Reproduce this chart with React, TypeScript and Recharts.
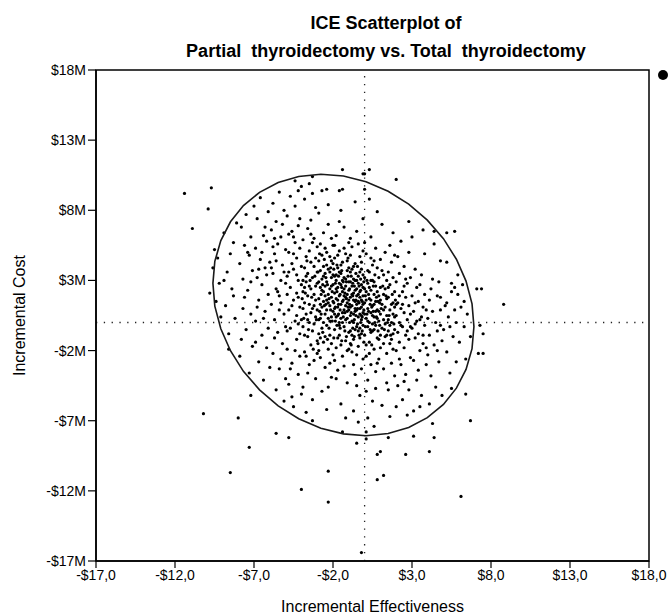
import React from 'react';
import { ScatterChart, Scatter, XAxis, YAxis, ReferenceLine, ReferenceArea } from 'recharts';

const titleLines = ['ICE Scatterplot of', 'Partial  thyroidectomy vs. Total  thyroidectomy'];
const xAxisTitle = 'Incremental Effectiveness';
const yAxisTitle = 'Incremental Cost';
const xTicks = [-17, -12, -7, -2, 3, 8, 13, 18];
const yTicks = [-17, -12, -7, -2, 3, 8, 13, 18];

// Incremental effectiveness (x) , incremental cost in $M (y)
const clusterPoints: [number, number][] = [
  [-9.8,2.1],[-9.6,3.9],[-9.4,1.5],[-9.3,4.6],[-9.1,0.4],[-9.5,5.2],[-9.2,2.8],
  [-8.9,6.4],[-8.8,1.2],[-8.7,3.6],[-8.6,-0.8],[-8.5,4.9],[-8.4,2.4],[-8.3,5.7],[-8.2,0.3],[-8.9,3.0],[-8.1,7.1],[-8.6,-1.9],[-8.3,1.9],
  [-7.9,4.2],[-7.9,-2.4],[-7.8,6.8],[-7.7,1.0],[-7.7,3.1],[-7.6,5.5],[-7.5,-0.5],[-7.5,7.7],[-7.4,2.3],[-7.3,-3.6],[-7.3,4.8],[-7.2,0.6],[-7.2,6.1],[-7.1,3.7],[-7.1,-1.7],[-7.0,8.3],[-7.6,1.8],[-7.4,5.0],[-7.8,-1.2],[-7.2,2.9],
  [-6.9,5.3],[-6.9,0.1],[-6.8,3.2],[-6.8,7.4],[-6.7,-2.8],[-6.7,1.6],[-6.6,4.5],[-6.6,8.9],[-6.5,-0.9],[-6.5,2.7],[-6.4,6.2],[-6.4,-4.1],[-6.3,3.9],[-6.3,0.8],[-6.2,5.8],[-6.2,-1.8],[-6.1,2.0],[-6.1,7.9],[-6.0,4.3],[-6.0,-3.2],[-6.8,1.1],[-6.5,5.0],[-6.3,6.8],[-6.9,-1.4],[-6.2,3.4],[-6.4,0.3],[-6.1,-0.4],[-6.7,3.8],
  [-5.9,1.3],[-5.9,6.6],[-5.8,-2.2],[-5.8,3.5],[-5.8,8.5],[-5.7,0.2],[-5.7,4.9],[-5.6,-4.8],[-5.6,2.4],[-5.6,7.2],[-5.5,-0.7],[-5.5,5.6],[-5.4,1.9],[-5.4,9.3],[-5.4,-3.3],[-5.3,3.0],[-5.3,6.1],[-5.2,-1.5],[-5.2,4.1],[-5.1,0.6],[-5.1,8.0],[-5.1,-5.6],[-5.0,2.8],[-5.0,5.2],[-5.9,3.9],[-5.7,-1.1],[-5.5,2.2],[-5.3,-2.6],[-5.2,7.0],[-5.6,4.4],[-5.4,0.9],[-5.0,-0.3],[-5.8,5.4],[-5.3,1.4],[-5.1,3.6],[-5.7,6.0],[-5.0,-4.0],
  [-4.9,3.3],[-4.9,-1.9],[-4.9,7.6],[-4.8,0.9],[-4.8,5.0],[-4.8,-4.4],[-4.7,2.5],[-4.7,9.0],[-4.7,-0.4],[-4.6,4.2],[-4.6,6.5],[-4.6,-2.9],[-4.5,1.6],[-4.5,3.8],[-4.5,-6.0],[-4.4,0.1],[-4.4,5.7],[-4.4,8.3],[-4.3,2.1],[-4.3,-1.2],[-4.3,4.6],[-4.2,-3.7],[-4.2,3.0],[-4.2,6.9],[-4.1,1.1],[-4.1,-0.8],[-4.1,5.3],[-4.0,2.7],[-4.0,-5.1],[-4.0,9.7],[-4.9,2.0],[-4.8,3.6],[-4.7,-3.3],[-4.6,1.2],[-4.5,6.1],[-4.4,-2.0],[-4.3,0.5],[-4.2,1.8],[-4.1,7.4],[-4.0,0.2],[-4.6,-5.3],[-4.3,3.4],[-4.8,6.3],[-4.1,-2.4],[-4.5,4.9],[-4.0,4.0],[-4.9,-0.6],[-4.2,-0.1],
  [-3.9,2.2],[-3.9,-0.3],[-3.9,5.9],[-3.9,-4.6],[-3.8,1.4],[-3.8,3.9],[-3.8,8.8],[-3.8,-2.1],[-3.7,0.6],[-3.7,4.7],[-3.7,-6.4],[-3.7,2.9],[-3.6,-1.0],[-3.6,6.7],[-3.6,1.9],[-3.6,3.5],[-3.5,-3.0],[-3.5,0.0],[-3.5,5.1],[-3.5,9.9],[-3.4,2.4],[-3.4,-1.6],[-3.4,4.3],[-3.4,7.3],[-3.3,1.0],[-3.3,-5.5],[-3.3,3.2],[-3.3,-0.6],[-3.2,2.0],[-3.2,6.0],[-3.2,-2.7],[-3.2,4.0],[-3.1,0.4],[-3.1,1.6],[-3.1,8.2],[-3.1,-4.0],[-3.0,2.8],[-3.0,-1.3],[-3.0,5.4],[-3.0,3.6],[-3.9,1.0],[-3.8,-0.9],[-3.7,3.3],[-3.6,-3.6],[-3.5,1.3],[-3.4,0.7],[-3.3,5.7],[-3.2,-0.1],[-3.1,2.6],[-3.0,0.9],[-3.9,3.0],[-3.7,-2.4],[-3.5,2.6],[-3.3,-7.0],[-3.1,4.6],[-3.6,0.2],[-3.4,6.3],[-3.8,2.5],[-3.2,1.2],[-3.0,-2.2],
  [-2.9,1.7],[-2.9,4.4],[-2.9,-0.8],[-2.9,7.8],[-2.8,2.5],[-2.8,-2.5],[-2.8,0.3],[-2.8,5.6],[-2.7,3.1],[-2.7,-4.9],[-2.7,1.1],[-2.7,9.4],[-2.6,-1.4],[-2.6,2.2],[-2.6,4.0],[-2.6,6.4],[-2.5,0.6],[-2.5,3.5],[-2.5,-3.2],[-2.5,1.9],[-2.4,-0.2],[-2.4,2.9],[-2.4,5.0],[-2.4,-6.2],[-2.3,1.4],[-2.3,3.8],[-2.3,-1.9],[-2.3,7.0],[-2.2,0.1],[-2.2,2.4],[-2.2,4.7],[-2.2,-0.9],[-2.1,1.8],[-2.1,3.2],[-2.1,-3.9],[-2.1,6.0],[-2.0,0.8],[-2.0,2.7],[-2.0,-2.3],[-2.0,4.2],[-2.9,2.9],[-2.8,1.3],[-2.7,-0.4],[-2.6,3.3],[-2.5,2.6],[-2.4,0.9],[-2.3,2.0],[-2.2,3.6],[-2.1,0.4],[-2.0,1.5],[-2.9,-2.0],[-2.7,4.8],[-2.5,-1.0],[-2.3,-4.6],[-2.1,2.6],[-2.8,3.7],[-2.6,0.0],[-2.4,4.1],[-2.2,1.2],[-2.0,3.4],[-2.7,2.3],[-2.5,5.3],[-2.3,0.3],[-2.1,-1.5],[-2.9,0.2],[-2.4,1.6],[-2.2,-2.9],[-2.6,1.5],[-2.0,5.5],[-2.8,-1.1],[-2.3,8.4],[-2.1,4.4],
  [-1.9,2.1],[-1.9,-0.5],[-1.9,4.6],[-1.9,1.0],[-1.8,3.0],[-1.8,-1.8],[-1.8,0.4],[-1.8,6.2],[-1.7,1.6],[-1.7,3.9],[-1.7,-3.4],[-1.7,2.5],[-1.6,0.0],[-1.6,5.1],[-1.6,-0.9],[-1.6,2.8],[-1.5,1.3],[-1.5,3.5],[-1.5,-5.8],[-1.5,8.0],[-1.4,0.7],[-1.4,2.2],[-1.4,-2.4],[-1.4,4.3],[-1.3,1.9],[-1.3,-0.3],[-1.3,3.2],[-1.3,6.8],[-1.2,0.2],[-1.2,2.6],[-1.2,-1.3],[-1.2,4.9],[-1.1,1.4],[-1.1,3.7],[-1.1,-4.3],[-1.1,2.0],[-1.0,0.9],[-1.0,2.9],[-1.0,-0.7],[-1.0,5.7],[-1.9,3.3],[-1.8,1.7],[-1.7,0.5],[-1.6,1.9],[-1.5,2.7],[-1.4,1.5],[-1.3,0.9],[-1.2,1.8],[-1.1,0.3],[-1.0,2.3],[-1.9,-2.7],[-1.7,4.8],[-1.5,-1.6],[-1.3,-3.1],[-1.1,4.4],[-1.8,2.4],[-1.6,3.6],[-1.4,0.0],[-1.2,3.1],[-1.0,1.6],[-1.9,5.5],[-1.7,-1.1],[-1.5,0.3],[-1.3,2.4],[-1.1,-2.0],[-1.8,-4.0],[-1.6,7.2],[-1.4,3.0],[-1.2,-6.8],[-1.0,3.9],[-1.5,4.1],[-1.3,5.3],[-1.7,1.1],[-1.1,0.8],[-1.9,0.6],[-1.4,9.5],[-1.6,-0.2],[-1.2,1.2],[-1.8,3.4],[-1.0,-1.9],
  [-0.9,1.8],[-0.9,-0.6],[-0.9,3.6],[-0.9,0.5],[-0.8,2.6],[-0.8,-2.1],[-0.8,1.2],[-0.8,5.4],[-0.7,0.0],[-0.7,3.1],[-0.7,-1.2],[-0.7,2.1],[-0.6,1.5],[-0.6,4.2],[-0.6,-3.7],[-0.6,0.8],[-0.5,2.4],[-0.5,-0.3],[-0.5,6.5],[-0.5,1.9],[-0.4,0.4],[-0.4,3.3],[-0.4,-1.7],[-0.4,2.8],[-0.3,1.0],[-0.3,-5.2],[-0.3,2.2],[-0.3,4.7],[-0.2,-0.8],[-0.2,1.6],[-0.2,3.8],[-0.2,0.2],[-0.1,2.5],[-0.1,-2.6],[-0.1,1.3],[-0.1,7.4],[-0.9,2.9],[-0.8,0.1],[-0.7,4.0],[-0.6,2.3],[-0.5,0.9],[-0.4,1.5],[-0.3,0.6],[-0.2,2.7],[-0.1,0.7],[-0.9,-1.5],[-0.7,-3.0],[-0.5,-4.5],[-0.3,-1.1],[-0.1,3.4],[-0.8,3.8],[-0.6,-0.5],[-0.4,5.6],[-0.2,-3.3],[-0.9,4.8],[-0.7,1.6],[-0.5,3.0],[-0.3,1.8],[-0.1,-0.2],[-0.8,-0.9],[-0.6,1.0],[-0.4,-0.6],[-0.2,4.3],[-0.9,6.0],[-0.7,-6.3],[-0.5,-2.3],[-0.3,3.6],[-0.1,5.1],[-0.6,3.0],[-0.4,2.0],[-0.2,1.1],[-0.8,2.0],[-0.5,1.3],[-0.3,-0.4],[-0.1,1.9],[-0.6,8.6],[-0.4,-7.1],[-0.9,1.1],[-0.2,0.5],[-0.7,0.6],
  [0.0,1.4],[0.0,-0.9],[0.0,3.2],[0.1,0.3],[0.1,2.2],[0.1,-2.4],[0.1,4.9],[0.2,1.0],[0.2,-0.3],[0.2,2.8],[0.2,-4.1],[0.3,1.7],[0.3,0.0],[0.3,3.6],[0.3,-1.4],[0.4,0.7],[0.4,2.3],[0.4,-3.0],[0.4,6.1],[0.5,1.2],[0.5,-0.6],[0.5,3.0],[0.5,-5.6],[0.6,0.4],[0.6,2.0],[0.6,-1.9],[0.6,4.4],[0.7,1.5],[0.7,-0.2],[0.7,2.6],[0.7,-3.5],[0.8,0.9],[0.8,-1.1],[0.8,3.9],[0.8,7.9],[0.9,1.9],[0.9,-2.6],[0.9,0.1],[0.0,5.7],[0.1,1.6],[0.2,-6.8],[0.3,2.5],[0.4,-0.7],[0.5,4.1],[0.6,1.3],[0.7,-4.7],[0.8,2.2],[0.9,3.2],[0.0,0.6],[0.2,3.7],[0.4,1.6],[0.6,-0.5],[0.8,0.3],[0.1,-1.6],[0.3,-2.2],[0.5,0.5],[0.7,0.8],[0.9,-1.2],[0.0,2.4],[0.2,0.1],[0.4,4.6],[0.6,2.9],[0.8,-2.9],[0.3,8.8],[0.5,-0.1],[0.7,5.3],[0.9,0.8],[0.1,-4.9],[0.6,-7.4],[0.4,3.0],
  [1.0,0.6],[1.0,2.5],[1.0,-1.8],[1.1,1.3],[1.1,-0.4],[1.1,3.7],[1.2,0.2],[1.2,-3.3],[1.2,2.0],[1.3,-1.0],[1.3,1.1],[1.3,5.0],[1.4,0.5],[1.4,-2.2],[1.4,3.0],[1.5,-0.6],[1.5,1.8],[1.5,-4.8],[1.6,0.9],[1.6,2.7],[1.6,-1.5],[1.7,0.0],[1.7,4.3],[1.7,-2.9],[1.8,1.4],[1.8,-0.8],[1.8,6.4],[1.9,0.4],[1.9,2.2],[1.9,-3.8],[1.0,4.5],[1.1,-5.9],[1.2,3.4],[1.3,-0.1],[1.4,1.7],[1.5,3.6],[1.6,-0.2],[1.7,1.3],[1.8,-1.9],[1.9,1.1],[1.0,-0.9],[1.2,-1.5],[1.4,-0.9],[1.6,-6.7],[1.8,3.2],[1.1,7.0],[1.3,2.4],[1.5,0.2],[1.7,-1.2],[1.9,-0.5],[1.2,0.9],[1.4,-4.3],[1.6,5.5],[1.8,0.6],[1.0,1.6],[1.5,2.5],[1.9,4.8],
  [2.0,0.5],[2.0,-2.0],[2.0,2.9],[2.1,-0.7],[2.1,1.4],[2.1,-4.5],[2.2,0.0],[2.2,3.5],[2.2,-1.4],[2.3,1.0],[2.3,-3.0],[2.3,5.8],[2.4,-0.3],[2.4,2.2],[2.4,-5.5],[2.5,0.7],[2.5,-1.8],[2.5,4.0],[2.6,-0.9],[2.6,1.8],[2.6,-3.7],[2.7,0.2],[2.7,2.8],[2.7,-6.6],[2.8,-1.2],[2.8,1.2],[2.8,7.2],[2.9,-2.5],[2.9,0.6],[2.9,3.2],[2.0,-6.0],[2.1,4.7],[2.2,-2.6],[2.3,-0.2],[2.4,1.3],[2.5,-4.2],[2.6,3.1],[2.7,-0.6],[2.8,5.0],[2.9,-0.3],[2.2,1.9],[2.5,2.6],[2.8,-4.8],[2.0,1.3],
  [3.0,-0.4],[3.0,1.9],[3.1,-2.7],[3.1,0.8],[3.2,-1.1],[3.2,3.8],[3.3,0.1],[3.3,-4.1],[3.4,1.5],[3.4,-0.8],[3.5,-2.0],[3.5,2.7],[3.6,0.4],[3.6,-5.2],[3.7,-1.5],[3.7,1.1],[3.8,-0.2],[3.8,4.9],[3.9,-3.0],[3.9,0.9],[3.0,6.1],[3.1,-6.3],[3.2,1.4],[3.3,2.5],[3.4,-3.4],[3.5,0.2],[3.6,3.4],[3.7,-0.9],[3.8,2.0],[3.9,-1.8],[3.2,-0.1],[3.5,-6.0],[3.7,6.6],
  [4.0,0.3],[4.0,-2.3],[4.1,1.6],[4.1,-0.9],[4.2,-3.8],[4.3,0.8],[4.3,3.1],[4.4,-1.6],[4.5,0.0],[4.5,-4.6],[4.6,1.9],[4.6,-0.6],[4.7,-2.8],[4.8,0.9],[4.8,4.4],[4.9,-1.3],[4.9,-5.2],[4.2,2.4],[4.4,5.6],[4.6,-2.0],[4.8,-0.2],[4.1,-5.8],[4.7,2.9],[4.8,1.8],
  [5.0,-0.5],[5.1,1.2],[5.2,-2.1],[5.3,0.4],[5.4,-3.6],[5.5,2.2],[5.6,-1.0],[5.7,0.9],[5.8,-2.8],[5.9,3.4],[5.2,4.3],[5.5,-4.7],[5.8,0.0],[5.4,-0.3],[5.5,2.8],[5.7,2.5],[5.9,2.0],[5.2,1.4],
  [6.0,-1.4],[6.1,1.1],[6.3,-0.3],[6.4,-2.6],[6.5,0.6],[6.2,2.7],[6.7,-1.0],[6.3,1.5],
];

// the dense core of the cloud
const corePoints: [number, number][] = [
  [-3.95,1.7],[-3.85,0.3],[-3.75,2.1],[-3.65,4.4],[-3.55,-0.5],[-3.45,3.0],[-3.35,1.8],[-3.25,-1.9],[-3.15,3.3],[-3.05,0.2],
  [-2.95,3.6],[-2.85,0.8],[-2.75,2.0],[-2.65,-0.7],[-2.55,4.5],[-2.45,1.3],[-2.35,2.7],[-2.25,-0.4],[-2.15,3.9],[-2.05,0.1],
  [-2.95,-1.5],[-2.85,4.9],[-2.75,0.6],[-2.65,2.7],[-2.55,1.2],[-2.45,3.2],[-2.35,-1.2],[-2.25,1.7],[-2.15,0.9],[-2.05,2.2],
  [-1.95,1.4],[-1.85,2.8],[-1.75,-0.2],[-1.65,3.3],[-1.55,0.9],[-1.45,2.5],[-1.35,1.6],[-1.25,-0.6],[-1.15,2.9],[-1.05,1.1],
  [-1.95,3.8],[-1.85,0.1],[-1.75,2.2],[-1.65,1.3],[-1.55,-0.4],[-1.45,3.7],[-1.35,0.4],[-1.25,2.1],[-1.15,-1.0],[-1.05,3.3],
  [-1.95,-1.1],[-1.85,1.1],[-1.75,4.1],[-1.65,0.6],[-1.55,2.0],[-1.45,-1.3],[-1.35,2.9],[-1.25,0.7],[-1.15,1.7],[-1.05,4.6],
  [-0.95,2.4],[-0.85,0.7],[-0.75,1.9],[-0.65,-1.0],[-0.55,3.5],[-0.45,1.0],[-0.35,2.6],[-0.25,0.0],[-0.15,1.5],[-0.05,2.9],
  [-0.95,0.0],[-0.85,3.3],[-0.75,-0.4],[-0.65,2.6],[-0.55,0.5],[-0.45,4.0],[-0.35,-0.9],[-0.25,2.3],[-0.15,0.4],[-0.05,-1.4],
  [-0.95,1.3],[-0.85,-1.6],[-0.75,2.8],[-0.65,0.2],[-0.55,1.6],[-0.45,-0.1],[-0.35,1.4],[-0.25,3.1],[-0.15,-0.6],[-0.05,0.9],
  [0.05,1.9],[0.15,0.6],[0.25,2.0],[0.35,-0.5],[0.45,1.1],[0.55,2.6],[0.65,0.0],[0.75,1.8],[0.85,-0.6],[0.95,1.4],
  [0.05,-0.3],[0.15,3.0],[0.25,0.8],[0.35,1.3],[0.45,-1.6],[0.55,0.8],[0.65,3.4],[0.75,0.4],[0.85,1.5],[0.95,-0.2],
  [1.05,1.0],[1.25,-0.5],[1.35,1.9],[1.55,0.5],[1.65,-0.9],[1.75,2.0],[1.85,-0.1],[1.95,1.6],[1.15,2.6],[1.45,0.0],
];

const outlierPoints: [number, number][] = [
  [-11.4,9.2],[-9.7,9.6],[-9.9,8.1],[-10.9,6.7],[-10.2,-6.5],[-8.0,-6.8],[-7.2,-5.2],[-7.3,-8.9],[-8.5,-10.7],
  [-5.6,-7.9],[-4.8,-8.2],[-2.3,-10.6],[-4.0,-11.9],[-2.3,-12.8],[-0.5,-8.6],[0.1,-8.3],[0.8,-9.4],[1.0,-9.2],
  [1.5,-8.2],[3.1,-8.1],[4.4,-8.2],[2.6,-9.4],[4.1,-9.2],[0.8,-11.2],[1.2,-10.9],[6.1,-12.4],[-0.2,-16.4],
  [-1.4,-7.8],[0.1,-7.8],[-1.4,10.9],[-0.1,10.6],[0.0,10.6],[0.3,10.9],[2.0,10.2],[-3.3,10.4],[-4.4,10.1],
  [-2.4,9.5],[-1.6,9.4],[-4.2,9.4],[-3.3,9.2],[0.0,9.5],[7.1,2.4],[7.4,2.4],[8.8,1.3],[7.5,-0.8],[7.3,-0.2],
  [7.2,-2.2],[7.5,-2.2],[6.4,-5.1],[6.7,-7.0],[4.3,-7.2],[5.2,6.4],[5.7,6.5],[4.4,6.5],
];

// 95% confidence ellipse outline
const ellipseOutline: [number, number][] = [
  [6.92,-0.29],[6.80,1.33],[6.42,2.95],[5.81,4.51],[4.99,5.98],[3.97,7.30],[2.79,8.44],[1.49,9.36],[0.09,10.04],
  [-1.34,10.44],[-2.77,10.57],[-4.17,10.41],[-5.47,9.98],[-6.65,9.28],[-7.67,8.34],[-8.49,7.18],[-9.10,5.84],[-9.48,4.36],
  [-9.60,2.79],[-9.48,1.17],[-9.10,-0.45],[-8.49,-2.01],[-7.67,-3.48],[-6.65,-4.80],[-5.47,-5.94],[-4.17,-6.86],[-2.77,-7.54],
  [-1.34,-7.94],[0.09,-8.07],[1.49,-7.91],[2.79,-7.48],[3.97,-6.78],[4.99,-5.84],[5.81,-4.68],[6.42,-3.34],[6.80,-1.86],
];

const toRows = (arr: [number, number][]) => arr.map(([x, y]) => ({ x, y }));
const scatterData = toRows([...clusterPoints, ...corePoints, ...outlierPoints]);
const ellipseData = toRows(ellipseOutline);

const fmtX = (v: number) => `${v < 0 ? '-' : ''}$${Math.abs(v)},0`;
const fmtY = (v: number) => `${v < 0 ? '-' : ''}$${Math.abs(v)}M`;

const FONT = '"Liberation Sans", Arial, Helvetica, sans-serif';

const Dot = (props: any) => <circle cx={props.cx} cy={props.cy} r={1.6} fill="#000" />;
const NoDot = () => <g />;

const titleStyle: React.CSSProperties = {
  position: 'absolute', left: 86, width: 600, textAlign: 'center', fontSize: 18, fontWeight: 'bold',
  lineHeight: '20px', whiteSpace: 'pre', color: '#000',
};

export default function App() {
  return (
    <div style={{ position: 'absolute', left: 0, top: 0, width: 668, height: 615, background: '#fff', fontFamily: FONT, overflow: 'hidden' }}>
      <div style={{ ...titleStyle, top: 13 }}>{titleLines[0]}</div>
      <div style={{ ...titleStyle, top: 41 }}>{titleLines[1]}</div>
      <div style={{ position: 'absolute', left: 658, top: 70, width: 10, height: 10, borderRadius: '50%', background: '#000' }} />
      <ScatterChart width={668} height={615} margin={{ top: 70, right: 19, bottom: 0, left: 0 }} style={{ fontFamily: FONT }}>
        <XAxis
          type="number"
          dataKey="x"
          domain={[-17, 18]}
          ticks={xTicks}
          interval={0}
          allowDataOverflow
          tickFormatter={fmtX}
          height={54}
          tickSize={7}
          tickMargin={2}
          axisLine={{ stroke: '#000', strokeWidth: 1.5 }}
          tickLine={{ stroke: '#000', strokeWidth: 1.2 }}
          tick={{ fill: '#000', fontSize: 14, fontFamily: FONT }}
          label={{ value: xAxisTitle, position: 'center', dy: 18, fill: '#000', fontSize: 16, fontFamily: FONT }}
        />
        <YAxis
          type="number"
          dataKey="y"
          domain={[-17, 18]}
          ticks={yTicks}
          interval={0}
          allowDataOverflow
          tickFormatter={fmtY}
          width={96}
          tickSize={8}
          tickMargin={2}
          axisLine={{ stroke: '#000', strokeWidth: 1.5 }}
          tickLine={{ stroke: '#000', strokeWidth: 1.2 }}
          tick={{ fill: '#000', fontSize: 14, fontFamily: FONT }}
          label={{ value: yAxisTitle, angle: -90, position: 'insideLeft', offset: 19, fill: '#000', fontSize: 16, fontFamily: FONT, style: { textAnchor: 'middle' } }}
        />
        <ReferenceArea x1={-17} x2={18} y1={-17} y2={18} fill="none" fillOpacity={0} stroke="#000" strokeWidth={1.5} />
        <ReferenceLine x={0} stroke="#222" strokeWidth={1.3} strokeDasharray="1.3 6.5" />
        <ReferenceLine y={0} stroke="#222" strokeWidth={1.3} strokeDasharray="1.3 6.5" />
        <Scatter data={scatterData} shape={Dot} isAnimationActive={false} />
        <Scatter
          data={ellipseData}
          shape={NoDot}
          line={{ stroke: '#1a1a1a', strokeWidth: 1.6, fill: 'none' }}
          lineType="joint"
          lineJointType="linearClosed"
          isAnimationActive={false}
        />
      </ScatterChart>
    </div>
  );
}
